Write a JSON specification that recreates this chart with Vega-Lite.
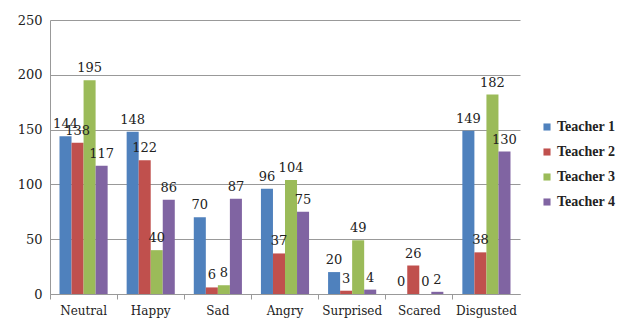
{
  "$schema": "https://vega.github.io/schema/vega-lite/v6.json",
  "autosize": "none",
  "width": 470,
  "height": 274,
  "padding": {"left": 50, "top": 20, "right": 98, "bottom": 26},
  "background": "white",
  "config": {
    "font": "DejaVu Serif",
    "view": {"stroke": null}
  },
  "data": {
    "values": [
      {"emotion": "Neutral", "teacher": "Teacher 1", "count": 144},
      {"emotion": "Neutral", "teacher": "Teacher 2", "count": 138},
      {"emotion": "Neutral", "teacher": "Teacher 3", "count": 195},
      {"emotion": "Neutral", "teacher": "Teacher 4", "count": 117},
      {"emotion": "Happy", "teacher": "Teacher 1", "count": 148},
      {"emotion": "Happy", "teacher": "Teacher 2", "count": 122},
      {"emotion": "Happy", "teacher": "Teacher 3", "count": 40},
      {"emotion": "Happy", "teacher": "Teacher 4", "count": 86},
      {"emotion": "Sad", "teacher": "Teacher 1", "count": 70},
      {"emotion": "Sad", "teacher": "Teacher 2", "count": 6},
      {"emotion": "Sad", "teacher": "Teacher 3", "count": 8},
      {"emotion": "Sad", "teacher": "Teacher 4", "count": 87},
      {"emotion": "Angry", "teacher": "Teacher 1", "count": 96},
      {"emotion": "Angry", "teacher": "Teacher 2", "count": 37},
      {"emotion": "Angry", "teacher": "Teacher 3", "count": 104},
      {"emotion": "Angry", "teacher": "Teacher 4", "count": 75},
      {"emotion": "Surprised", "teacher": "Teacher 1", "count": 20},
      {"emotion": "Surprised", "teacher": "Teacher 2", "count": 3},
      {"emotion": "Surprised", "teacher": "Teacher 3", "count": 49},
      {"emotion": "Surprised", "teacher": "Teacher 4", "count": 4},
      {"emotion": "Scared", "teacher": "Teacher 1", "count": 0},
      {"emotion": "Scared", "teacher": "Teacher 2", "count": 26},
      {"emotion": "Scared", "teacher": "Teacher 3", "count": 0},
      {"emotion": "Scared", "teacher": "Teacher 4", "count": 2},
      {"emotion": "Disgusted", "teacher": "Teacher 1", "count": 149},
      {"emotion": "Disgusted", "teacher": "Teacher 2", "count": 38},
      {"emotion": "Disgusted", "teacher": "Teacher 3", "count": 182},
      {"emotion": "Disgusted", "teacher": "Teacher 4", "count": 130}
    ]
  },
  "encoding": {
    "x": {
      "field": "emotion",
      "type": "nominal",
      "sort": null,
      "title": null,
      "scale": {"paddingInner": 0, "paddingOuter": 0},
      "axis": {
        "labelAngle": 0,
        "bandPosition": 0,
        "labelFontSize": 12,
        "labelColor": "#222",
        "labelPadding": 6,
        "domainColor": "#999",
        "tickColor": "#999",
        "tickSize": 5,
        "grid": false
      }
    },
    "xOffset": {
      "field": "teacher",
      "type": "nominal",
      "scale": {"paddingInner": 0, "paddingOuter": 0.79}
    },
    "y": {
      "field": "count",
      "type": "quantitative",
      "title": null,
      "scale": {"domain": [0, 250]},
      "axis": {
        "values": [0, 50, 100, 150, 200, 250],
        "labelFontSize": 13,
        "labelColor": "#222",
        "labelPadding": 8,
        "ticks": false,
        "domainColor": "#999",
        "gridColor": "#999",
        "gridWidth": 1
      }
    }
  },
  "layer": [
    {
      "mark": {"type": "bar"},
      "encoding": {
        "color": {
          "field": "teacher",
          "type": "nominal",
          "title": null,
          "scale": {"range": ["#4F81BD", "#C0504D", "#9BBB59", "#8064A2"]},
          "legend": {
            "orient": "none",
            "legendX": 490,
            "legendY": 100,
            "symbolType": "square",
            "symbolSize": 50,
            "labelFontSize": 14,
            "labelFontWeight": "bold",
            "labelFont": "Liberation Serif",
            "labelColor": "#222",
            "rowPadding": 11,
            "labelOffset": 3
          }
        }
      }
    },
    {
      "mark": {"type": "text", "baseline": "bottom", "dy": -5, "fontSize": 13, "color": "#222"},
      "encoding": {
        "text": {"field": "count", "type": "quantitative"}
      }
    }
  ]
}
